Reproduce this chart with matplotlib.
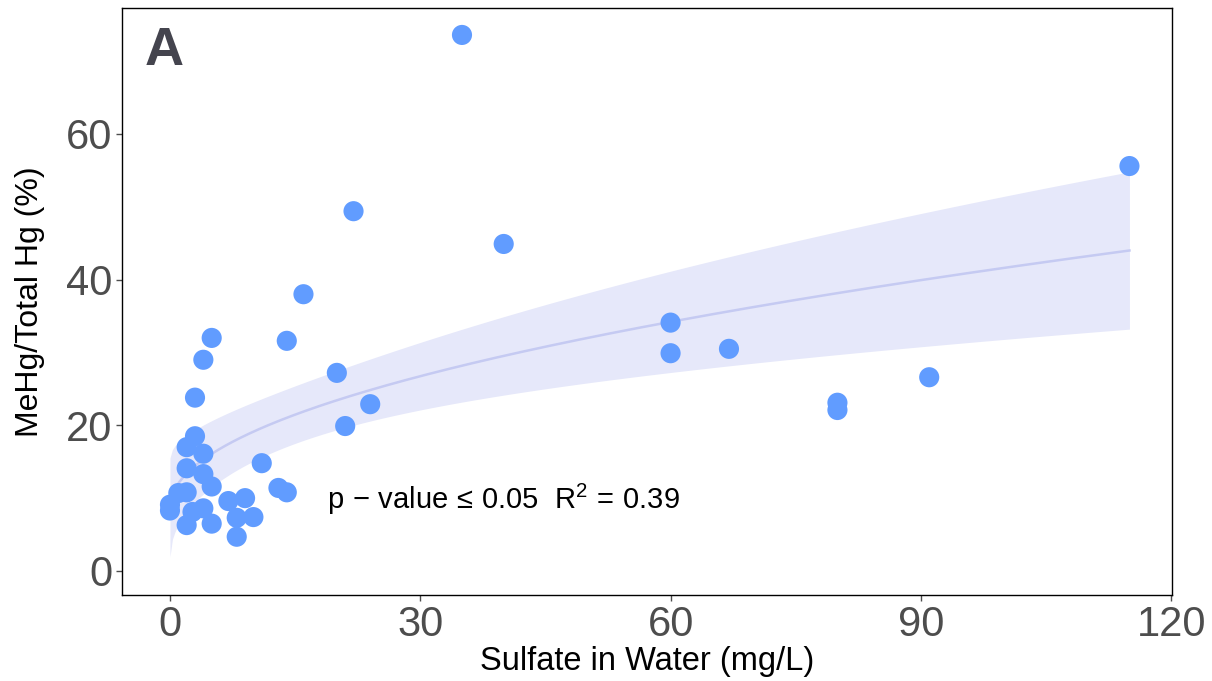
import numpy as np
import matplotlib
matplotlib.use("Agg")
import matplotlib.pyplot as plt

sulfate = [35, 115, 22, 40, 16, 60, 60, 67, 20, 91, 24, 80, 80, 21,
           14, 13, 14, 5, 4, 3, 3, 2, 4, 11, 2, 4, 5, 1, 2, 0, 0,
           7, 9, 4, 2.7, 8, 10, 2, 5, 8]
mehg = [73.6, 55.6, 49.4, 44.9, 38.0, 34.1, 29.9, 30.5, 27.2, 26.6, 22.9, 23.1, 22.1, 19.9,
        31.6, 11.4, 10.8, 32.0, 29.0, 23.8, 18.5, 17.0, 16.1, 14.8, 14.1, 13.3, 11.6, 10.7, 10.8, 9.1, 8.3,
        9.6, 10.0, 8.6, 8.1, 7.3, 7.4, 6.3, 6.5, 4.7]
xticks = [0, 30, 60, 90, 120]
yticks = [0, 20, 40, 60]

x = np.array(sulfate, float)
y = np.array(mehg, float)

# y ~ sqrt(x) linear model with 95% confidence band
X = np.column_stack([np.ones_like(x), np.sqrt(x)])
beta, *_ = np.linalg.lstsq(X, y, rcond=None)
resid = y - X @ beta
n = len(x)
s2 = resid @ resid / (n - 2)
XtXi = np.linalg.inv(X.T @ X)
xg = np.linspace(x.min(), x.max(), 400)
Xg = np.column_stack([np.ones_like(xg), np.sqrt(xg)])
yg = Xg @ beta
se = np.sqrt(s2 * np.einsum('ij,jk,ik->i', Xg, XtXi, Xg))
tval = 2.024
lo, hi = yg - tval * se, yg + tval * se

plt.rcParams['font.family'] = ['Liberation Sans', 'DejaVu Sans']
plt.rcParams['mathtext.fontset'] = 'custom'
plt.rcParams['mathtext.rm'] = 'Liberation Sans'
plt.rcParams['mathtext.it'] = 'Liberation Sans'

fig = plt.figure(figsize=(12.12, 6.81), dpi=100)
ax = fig.add_axes([122/1212, 1 - 595/681, (1172-122)/1212, (595-8)/681])

ax.fill_between(xg, lo, hi, color='#E6E8FA', lw=0, zorder=1)
ax.plot(xg, yg, color='#C5CAF2', lw=1.8, zorder=2)
ax.scatter(x, y, s=210, color='#619CFF', edgecolors='none', zorder=3)

ax.set_xlim(-5.75, 120.1)
ax.set_ylim(-3.3, 77.3)
ax.set_xticks(xticks)
ax.set_yticks(yticks)
ax.tick_params(axis='both', labelsize=30, colors='#4D4D4D', length=4, width=1, pad=3)
for sp in ax.spines.values():
    sp.set_color('black')
    sp.set_linewidth(1)

ax.set_xlabel('Sulfate in Water (mg/L)', fontsize=23.5, color='black', labelpad=1)
ax.set_ylabel('MeHg/Total Hg (%)', fontsize=23, color='black', labelpad=15)

ax.text(0.022, 0.97, 'A', transform=ax.transAxes, fontsize=39, fontweight='bold',
        color='#44444E', ha='left', va='top')
ax.text(40, 9.8, r'p$\,-\,$value$\,\leq\,$0.05  R$^2\,=\,$0.39', fontsize=21,
        ha='center', va='center', color='black')

fig.savefig('out.png', dpi=100)
